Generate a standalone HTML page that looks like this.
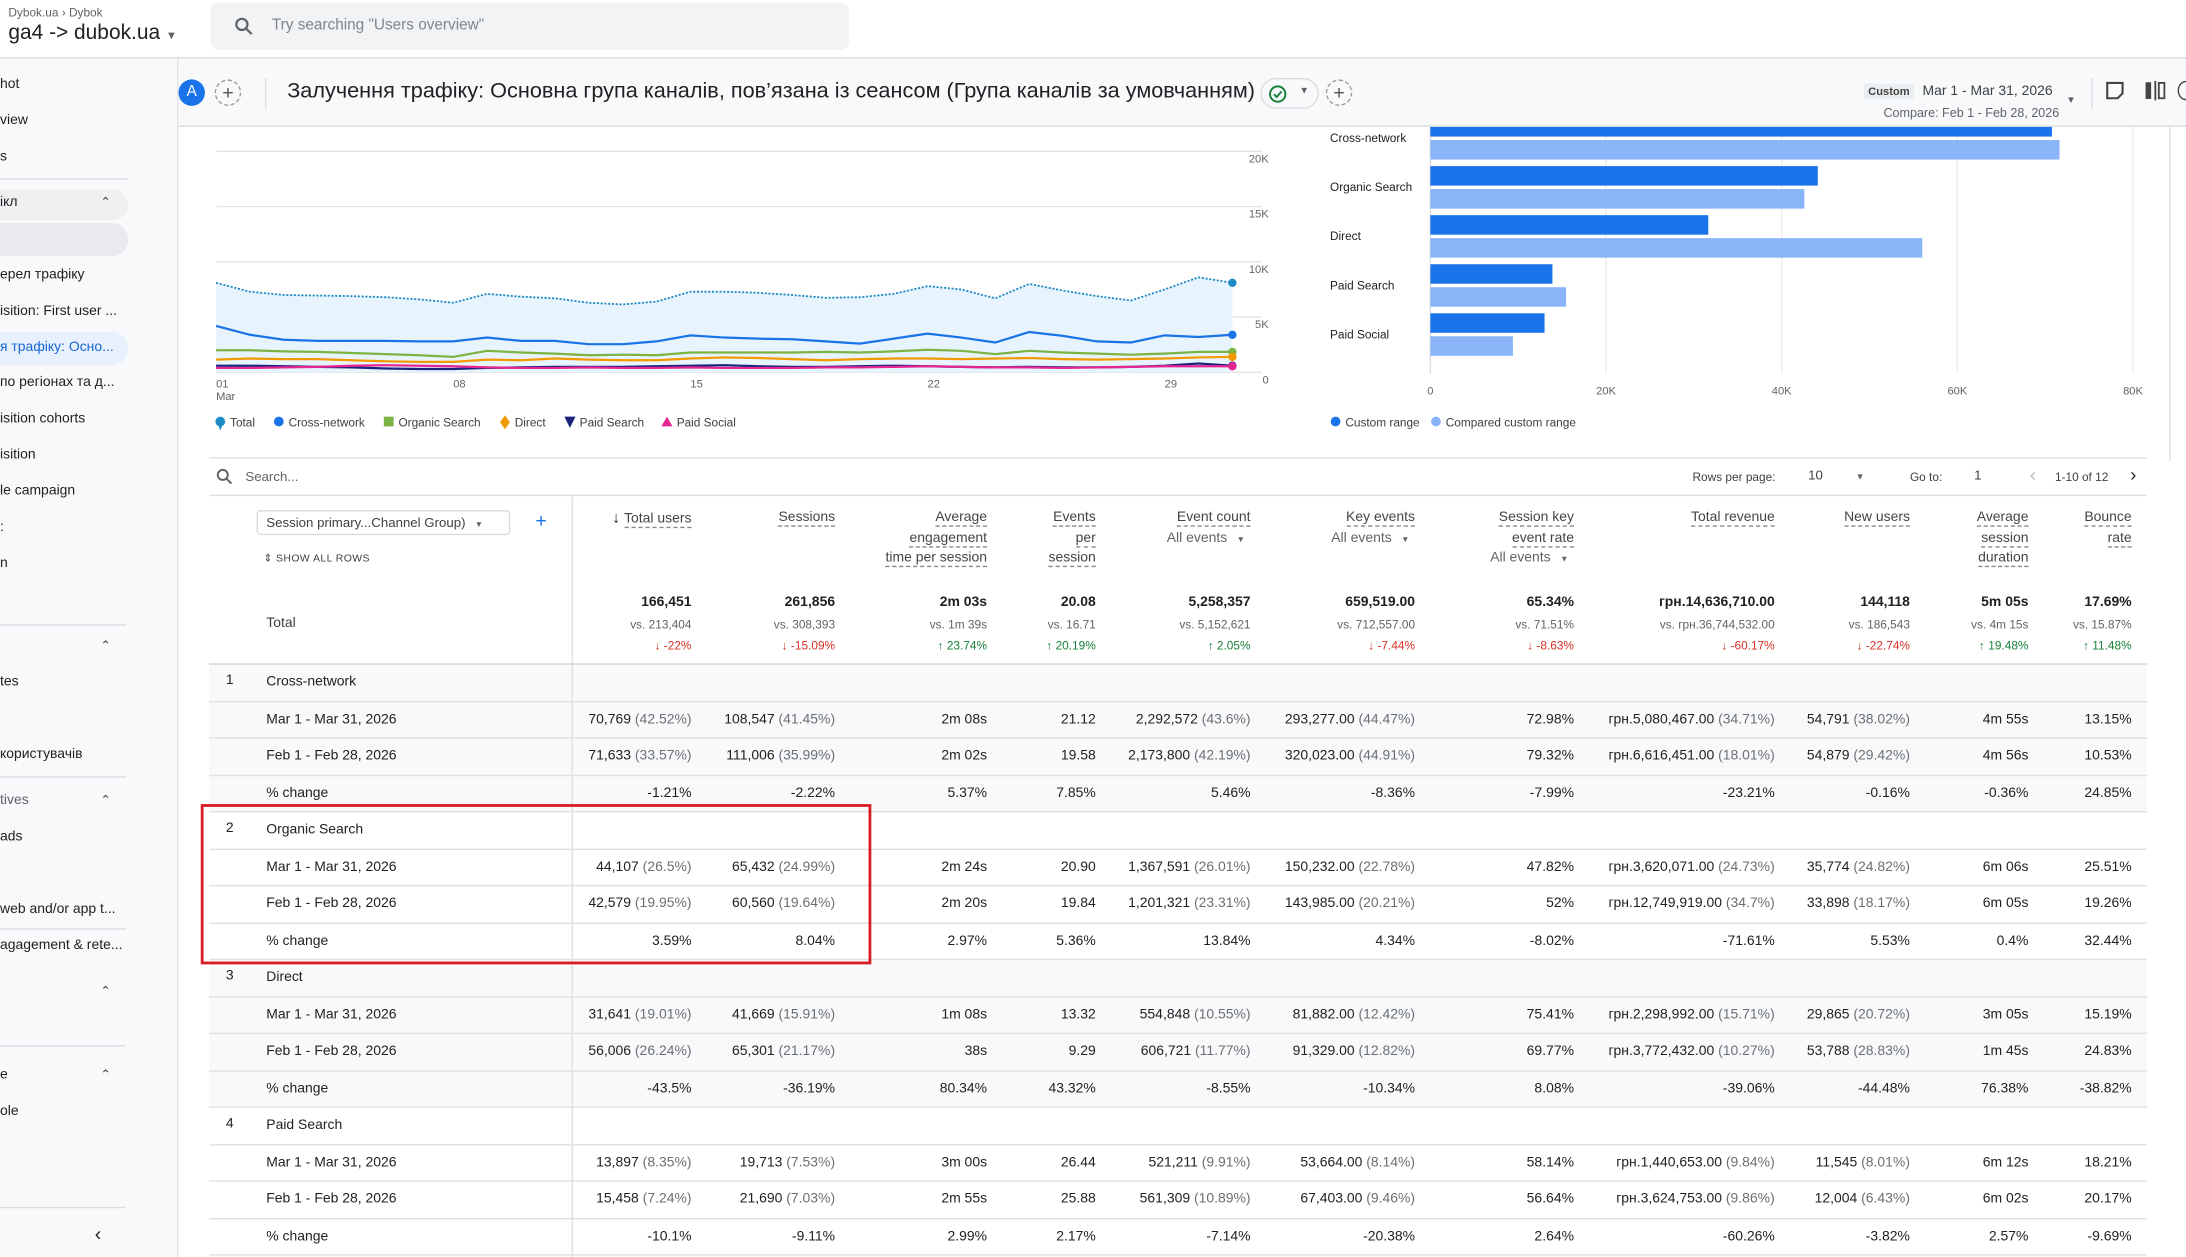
<!DOCTYPE html>
<html><head><meta charset="utf-8">
<style>
*{box-sizing:border-box;margin:0;padding:0}
html,body{width:2186px;height:1257px;overflow:hidden;background:#fff}
#root{position:absolute;left:0;top:0;width:1568px;height:902px;transform-origin:0 0;transform:scale(1.39413,1.39357);font-family:"Liberation Sans","Noto Sans CJK SC",sans-serif;color:#202124;overflow:hidden;background:#fff}
.a{position:absolute;white-space:nowrap}
.sb{font-size:10px;color:#202124}
.car{font-size:9px;color:#444}
.hd{font-size:10px;color:#444;text-align:right;line-height:14.5px}
.u{border-bottom:1px dashed #888}
.cell{position:absolute;font-size:10px;text-align:right;white-space:nowrap}
.g{color:#6b6f73}
</style></head><body>
<div id="root">

<!-- top bar -->
<div class="a" style="left:0;top:0;width:1568px;height:42px;background:#fff;border-bottom:1px solid #dadce0;z-index:5">
  <div class="a" style="left:6px;top:4px;font-size:8.5px;color:#5f6368">Dybok.ua › Dybok</div>
  <div class="a" style="left:6px;top:15px;font-size:15px;color:#202124">ga4 -&gt; dubok.ua <span style="font-size:8px;color:#5f6368">▼</span></div>
  <div class="a" style="left:151px;top:2px;width:458px;height:34px;background:#f1f3f4;border-radius:6px">
    <svg class="a" style="left:17px;top:10px" width="14" height="14" viewBox="0 0 14 14"><circle cx="5.5" cy="5.5" r="4" fill="none" stroke="#5f6368" stroke-width="1.6"/><line x1="8.5" y1="8.5" x2="12.5" y2="12.5" stroke="#5f6368" stroke-width="1.6"/></svg>
    <div class="a" style="left:44px;top:10px;font-size:11px;color:#80868b">Try searching "Users overview"</div>
  </div>
</div>

<!-- sidebar -->
<div class="a" style="left:0;top:42px;width:128px;height:860px;background:#f8f9fa;border-right:1px solid #e3e3e3;z-index:4">
</div>
<div id="side" style="position:absolute;left:0;top:0;z-index:6"></div>

<!-- header strip -->
<div class="a" style="left:128px;top:42px;width:1440px;height:49px;background:#f8f9fa;border-bottom:1px solid #dadce0;z-index:5"></div>
<div class="a" style="left:128px;top:57px;width:19px;height:19px;border-radius:50%;background:#1a73e8;color:#fff;font-size:11px;text-align:center;line-height:19px;z-index:6">A</div>
<div class="a" style="left:154px;top:57px;width:19px;height:19px;border-radius:50%;border:1px dashed #999;color:#555;font-size:14px;text-align:center;line-height:17px;z-index:6">+</div>
<div class="a" style="left:190px;top:56px;width:1px;height:22px;background:#dadce0;z-index:6"></div>
<div class="a" style="left:206px;top:57px;font-size:15.55px;color:#202124;z-index:6">Залучення трафіку: Основна група каналів, пов’язана із сеансом (Група каналів за умовчанням)</div>
<div class="a" style="left:904px;top:56px;width:42px;height:22px;border:1px solid #dadce0;border-radius:11px;z-index:6">
  <svg class="a" style="left:5px;top:4px" width="13" height="13" viewBox="0 0 13 13"><circle cx="6.5" cy="6.5" r="5.5" fill="none" stroke="#188038" stroke-width="1.4"/><path d="M3.8 6.7 L5.8 8.6 L9.3 4.6" fill="none" stroke="#188038" stroke-width="1.4"/></svg>
  <div class="a" style="left:27px;top:5px;font-size:7px;color:#5f6368">▼</div>
</div>
<div class="a" style="left:951px;top:57px;width:19px;height:19px;border-radius:50%;border:1px dashed #999;color:#555;font-size:14px;text-align:center;line-height:17px;z-index:6">+</div>
<div class="a" style="left:1337px;top:60px;padding:1px 3px;background:#eceff1;font-size:8px;font-weight:bold;color:#444;z-index:6">Custom</div>
<div class="a" style="left:1379px;top:60px;font-size:10px;color:#3c4043;z-index:6">Mar 1 - Mar 31, 2026</div>
<div class="a" style="left:1351px;top:76px;font-size:9px;color:#5f6368;z-index:6">Compare: Feb 1 - Feb 28, 2026</div>
<div class="a" style="left:1482px;top:69px;font-size:7px;color:#5f6368;z-index:6">▼</div>
<div class="a" style="left:1500px;top:56px;width:1px;height:22px;background:#dadce0;z-index:6"></div>
<svg class="a" style="left:1510px;top:58px;z-index:6" width="14" height="14" viewBox="0 0 14 14"><path d="M1.5 1.5 H12.5 V9 L9 12.5 H1.5 Z" fill="none" stroke="#444" stroke-width="1.5"/></svg>
<svg class="a" style="left:1538px;top:58px;z-index:6" width="16" height="14" viewBox="0 0 16 14"><rect x="1" y="1" width="4" height="12" fill="#444"/><line x1="8" y1="0" x2="8" y2="14" stroke="#444" stroke-width="1.3"/><rect x="10.5" y="1.5" width="4" height="11" fill="none" stroke="#444" stroke-width="1.3"/></svg>
<div class="a" style="left:1562px;top:58px;width:12px;height:14px;border:1.5px solid #444;border-radius:50%;z-index:6"></div>

<!-- line chart -->
<svg id="lc" class="a" style="left:140px;top:91px" width="790" height="230" viewBox="140 91 790 230"></svg>
<!-- bar chart -->
<svg id="bc" class="a" style="left:940px;top:80px" width="600" height="240" viewBox="940 80 600 240"></svg>
<div class="a" style="left:1556px;top:91px;width:1px;height:240px;background:#e0e0e0"></div>

<!-- table -->
<div id="tbl" class="a" style="left:0;top:0;width:1568px;height:902px"></div>

<div class="a" style="left:144px;top:577px;width:481px;height:115px;border:2px solid #d91b22;z-index:3"></div>
</div>

<script>
// ---------- sidebar ----------
const side=document.getElementById('side');
const sideItems=[["hot",61],["view",87],["s",113],["ікл",146],["ерел трафіку",198],["isition: First user ...",224],["я трафіку: Осно...",250],["по регіонах та д...",275],["isition cohorts",301],["isition",327],["le campaign",353],[":",379],["n",405],["tes",490],["користувачів",542],["tives",575],["ads",601],["web and/or app t...",653],["agagement &amp; rete...",679],["e",772],["ole",798]];
let sh='';
sh+='<div class="a" style="left:0;top:136px;width:92px;height:22px;border-radius:0 11px 11px 0;background:#eef0f2"></div>';
sh+='<div class="a" style="left:0;top:160px;width:92px;height:24px;border-radius:0 12px 12px 0;background:#e8eaed"></div>';
sh+='<div class="a" style="left:0;top:238px;width:92px;height:24px;border-radius:0 12px 12px 0;background:#e8f0fe"></div>';
[[128,92],[448,90],[557,90],[666,90],[750,90],[866,90]].forEach(d=>{sh+='<div class="a" style="left:0;top:'+d[0]+'px;width:'+d[1]+'px;height:1px;background:#dadce0"></div>';});
sideItems.forEach(s=>{const blue=s[1]===250;sh+='<div class="a sb" style="left:0;top:'+(s[1]-6)+'px;'+(blue?'color:#1967d2':(s[0]=='tives'?'color:#5f6368':''))+'">'+s[0]+'</div>';});
[146,464,575,712,772].forEach(y=>{sh+='<div class="a car" style="left:72px;top:'+(y-6)+'px">⌃</div>';});
sh+='<div class="a" style="left:68px;top:877px;font-size:14px;color:#202124">‹</div>';
side.innerHTML=sh;

// ---------- line chart ----------
const days=["01","08","15","22","29"];
const dayIdx=[0,7,14,21,28];
const yTicks=[0,5,10,15,20];
const totalK=[8.1,7.3,7.0,6.95,6.9,6.8,6.6,6.3,7.1,6.85,6.7,6.3,6.15,6.4,7.3,7.3,7.2,7.0,6.75,6.8,7.1,7.8,7.5,6.7,8.0,7.4,6.9,6.5,7.5,8.6,8.1];
const crossK=[4.2,3.4,2.95,2.85,2.85,2.85,2.8,2.8,3.15,2.85,2.85,2.55,2.55,2.8,3.35,3.15,3.05,3.0,2.8,2.6,3.05,3.5,3.15,2.7,3.65,3.3,2.8,2.7,3.35,3.2,3.4];
const organicK=[2.0,2.0,1.9,1.85,1.75,1.65,1.55,1.4,1.95,1.8,1.7,1.55,1.6,1.55,1.8,1.8,1.8,1.8,1.85,1.8,1.9,2.05,1.95,1.65,1.95,1.8,1.7,1.6,1.7,1.85,1.85];
const directK=[1.15,1.25,1.2,1.2,1.1,1.0,0.95,0.95,1.15,1.1,1.25,1.15,1.1,1.1,1.25,1.35,1.3,1.2,1.1,1.2,1.25,1.25,1.2,1.25,1.3,1.2,1.15,1.2,1.25,1.35,1.4];
const paidSearchK=[0.6,0.6,0.55,0.5,0.45,0.35,0.3,0.3,0.4,0.45,0.5,0.5,0.5,0.55,0.6,0.65,0.55,0.5,0.5,0.55,0.6,0.55,0.5,0.45,0.5,0.45,0.45,0.5,0.6,0.8,0.6];
const paidSocialK=[0.4,0.4,0.45,0.5,0.6,0.65,0.6,0.55,0.45,0.4,0.4,0.45,0.4,0.4,0.45,0.4,0.4,0.4,0.45,0.45,0.5,0.55,0.5,0.45,0.45,0.4,0.45,0.5,0.55,0.55,0.55];

const lx=i=>155+i*24.3;
const ly=v=>267.2-v*7.93;
const NS='http://www.w3.org/2000/svg';
function mk(parent,tag,attrs){const e=document.createElementNS(NS,tag);for(const k in attrs)e.setAttribute(k,attrs[k]);parent.appendChild(e);return e;}
const lc=document.getElementById('lc');
yTicks.forEach(t=>{
  const g=mk(lc,'line',{x1:155,x2:905,y1:ly(t),y2:ly(t),stroke:'#e3e3e3','stroke-width':1});
  
  
  const tx=mk(lc,'text',{x:910,y:ly(t)+8,'text-anchor':'end','font-size':8,fill:'#5f6368','font-family':'Liberation Sans, sans-serif'});
  tx.textContent=t===0?'0':t+'K';
  
  
});
days.forEach((d,k)=>{
  const tx=mk(lc,'text',{x:lx(dayIdx[k]),y:278,'font-size':8,fill:'#5f6368','font-family':'Liberation Sans, sans-serif'});
  tx.textContent=d;
  
  
});
{const tx=mk(lc,'text',{x:155,y:287,'font-size':8,fill:'#5f6368','font-family':'Liberation Sans, sans-serif'});tx.textContent='Mar';

}
{let d='M'+lx(0)+' '+ly(0);totalK.forEach((v,i)=>d+=' L'+lx(i)+' '+ly(v));d+=' L'+lx(totalK.length-1)+' '+ly(0)+' Z';
const a=mk(lc,'path',{d:d,fill:'#e8f4fd'});

}
const series=[
 {name:'total',vals:totalK,color:'#1e8ac6',w:1.3,dash:'1.5 1.2'},
 {name:'cross-network',vals:crossK,color:'#1a73e8',w:1.6},
 {name:'organic-search',vals:organicK,color:'#7cb342',w:1.6},
 {name:'direct',vals:directK,color:'#f29900',w:1.6},
 {name:'paid-search',vals:paidSearchK,color:'#1a237e',w:1.6},
 {name:'paid-social',vals:paidSocialK,color:'#e52592',w:1.6}];
series.forEach(s=>{
  const pts=s.vals.map((v,i)=>lx(i)+','+ly(v)).join(' ');
  const p=mk(lc,'polyline',{points:pts,fill:'none',stroke:s.color,'stroke-width':s.w});
  if(s.dash)p.setAttribute('stroke-dasharray',s.dash);
  
  
  const n=s.vals.length-1;
  const m=mk(lc,'circle',{cx:lx(n),cy:ly(s.vals[n]),r:3,fill:s.color});
  
  
});
const legItems=[["Total","#1e8ac6","pin"],["Cross-network","#1a73e8","c"],["Organic Search","#7cb342","s"],["Direct","#f29900","d"],["Paid Search","#1a237e","tv"],["Paid Social","#e52592","t"]];
let lxp=154;
legItems.forEach(l=>{
  const g=mk(lc,'g',{});
  
  
  const cx=lxp+4,cy=303;
  if(l[2]=='c'||l[2]=='pin')mk(g,'circle',{cx:cx,cy:cy-0.5,r:3.5,fill:l[1]});
  if(l[2]=='pin')mk(g,'path',{d:`M${cx-1.5} ${cy+2} L${cx} ${cy+6} L${cx+1.5} ${cy+2}Z`,fill:l[1]});
  if(l[2]=='s')mk(g,'rect',{x:cx-3.5,y:cy-4,width:7,height:7,fill:l[1]});
  if(l[2]=='d')mk(g,'path',{d:`M${cx} ${cy-5} L${cx+3.5} ${cy} L${cx} ${cy+5} L${cx-3.5} ${cy}Z`,fill:l[1]});
  if(l[2]=='tv')mk(g,'path',{d:`M${cx-4} ${cy-4} L${cx+4} ${cy-4} L${cx} ${cy+4}Z`,fill:l[1]});
  if(l[2]=='t')mk(g,'path',{d:`M${cx-4} ${cy+3} L${cx+4} ${cy+3} L${cx} ${cy-4}Z`,fill:l[1]});
  const t=mk(g,'text',{x:lxp+11,y:306,'font-size':8.5,fill:'#3c4043','font-family':'Liberation Sans, sans-serif'});
  t.textContent=l[0];
  lxp+=11+l[0].length*4.6+8;
});

// ---------- bar chart ----------
const barCats=["Cross-network","Organic Search","Direct","Paid Search","Paid Social"];
const barCurrent=[70769,44107,31641,13897,13000];
const barCompared=[71633,42579,56006,15458,9400];
const barTicks=[0,20000,40000,60000,80000];
const bx=v=>1026+v*6.3/1000;
const catY=i=>99+i*35.2;
const bc=document.getElementById('bc');
barTicks.forEach(t=>{
  const l=mk(bc,'line',{x1:bx(t),x2:bx(t),y1:91,y2:268,stroke:t===0?'#dadce0':'#ececec','stroke-width':1});
  
  
  const tx=mk(bc,'text',{x:bx(t),y:283,'text-anchor':'middle','font-size':8,fill:'#5f6368','font-family':'Liberation Sans, sans-serif'});
  tx.textContent=t===0?'0':(t/1000)+'K';
  
  
});
barCats.forEach((c,i)=>{
  const y=catY(i);
  const tx=mk(bc,'text',{x:954,y:y+3,'font-size':8.5,fill:'#202124','font-family':'Liberation Sans, sans-serif'});
  tx.textContent=c;
  
  
  const r1=mk(bc,'rect',{x:bx(0),y:y-15,width:bx(barCurrent[i])-bx(0),height:14,fill:'#1a73e8'});
  
  
  const r2=mk(bc,'rect',{x:bx(0),y:y+1.5,width:bx(barCompared[i])-bx(0),height:14,fill:'#8ab4f8'});
  
  
});
[["Custom range","#1a73e8",954],["Compared custom range","#8ab4f8",1026]].forEach(l=>{
  const g=mk(bc,'g',{});
  
  
  mk(g,'circle',{cx:l[2]+4,cy:302.5,r:3.5,fill:l[1]});
  const t=mk(g,'text',{x:l[2]+11,y:306,'font-size':8.5,fill:'#3c4043','font-family':'Liberation Sans, sans-serif'});
  t.textContent=l[0];
});

// ---------- table ----------
const colRight=[496,599,708,786,897,1015,1129,1273,1370,1455,1529];
const headers=[["Total users"],["Sessions"],["Average","engagement","time per session"],["Events","per","session"],["Event count","@All events"],["Key events","@All events"],["Session key","event rate","@All events"],["Total revenue"],["New users"],["Average","session","duration"],["Bounce","rate"]];
const totMain=["166,451","261,856","2m 03s","20.08","5,258,357","659,519.00","65.34%","грн.14,636,710.00","144,118","5m 05s","17.69%"];
const totVs=["vs. 213,404","vs. 308,393","vs. 1m 39s","vs. 16.71","vs. 5,152,621","vs. 712,557.00","vs. 71.51%","vs. грн.36,744,532.00","vs. 186,543","vs. 4m 15s","vs. 15.87%"];
const totChg=["-22%","-15.09%","23.74%","20.19%","2.05%","-7.44%","-8.63%","-60.17%","-22.74%","19.48%","11.48%"];
const groups=[
 ["Cross-network",
  ["70,769|42.52%","108,547|41.45%","2m 08s","21.12","2,292,572|43.6%","293,277.00|44.47%","72.98%","грн.5,080,467.00|34.71%","54,791|38.02%","4m 55s","13.15%"],
  ["71,633|33.57%","111,006|35.99%","2m 02s","19.58","2,173,800|42.19%","320,023.00|44.91%","79.32%","грн.6,616,451.00|18.01%","54,879|29.42%","4m 56s","10.53%"],
  ["-1.21%","-2.22%","5.37%","7.85%","5.46%","-8.36%","-7.99%","-23.21%","-0.16%","-0.36%","24.85%"]],
 ["Organic Search",
  ["44,107|26.5%","65,432|24.99%","2m 24s","20.90","1,367,591|26.01%","150,232.00|22.78%","47.82%","грн.3,620,071.00|24.73%","35,774|24.82%","6m 06s","25.51%"],
  ["42,579|19.95%","60,560|19.64%","2m 20s","19.84","1,201,321|23.31%","143,985.00|20.21%","52%","грн.12,749,919.00|34.7%","33,898|18.17%","6m 05s","19.26%"],
  ["3.59%","8.04%","2.97%","5.36%","13.84%","4.34%","-8.02%","-71.61%","5.53%","0.4%","32.44%"]],
 ["Direct",
  ["31,641|19.01%","41,669|15.91%","1m 08s","13.32","554,848|10.55%","81,882.00|12.42%","75.41%","грн.2,298,992.00|15.71%","29,865|20.72%","3m 05s","15.19%"],
  ["56,006|26.24%","65,301|21.17%","38s","9.29","606,721|11.77%","91,329.00|12.82%","69.77%","грн.3,772,432.00|10.27%","53,788|28.83%","1m 45s","24.83%"],
  ["-43.5%","-36.19%","80.34%","43.32%","-8.55%","-10.34%","8.08%","-39.06%","-44.48%","76.38%","-38.82%"]],
 ["Paid Search",
  ["13,897|8.35%","19,713|7.53%","3m 00s","26.44","521,211|9.91%","53,664.00|8.14%","58.14%","грн.1,440,653.00|9.84%","11,545|8.01%","6m 12s","18.21%"],
  ["15,458|7.24%","21,690|7.03%","2m 55s","25.88","561,309|10.89%","67,403.00|9.46%","56.64%","грн.3,624,753.00|9.86%","12,004|6.43%","6m 02s","20.17%"],
  ["-10.1%","-9.11%","2.99%","2.17%","-7.14%","-20.38%","2.64%","-60.26%","-3.82%","2.57%","-9.69%"]]];

let h='';
h+='<div class="a" style="left:150px;top:328px;width:1390px;height:1px;background:#e0e0e0"></div>';
h+='<svg class="a" style="left:155px;top:336px" width="12" height="12" viewBox="0 0 12 12"><circle cx="4.8" cy="4.8" r="3.6" fill="none" stroke="#5f6368" stroke-width="1.4"/><line x1="7.5" y1="7.5" x2="11" y2="11" stroke="#5f6368" stroke-width="1.4"/></svg>';
h+='<div class="a" style="left:176px;top:337px;font-size:9.5px;color:#5f6368">Search...</div>';
h+='<div class="a" style="left:1214px;top:337px;font-size:8.5px;color:#3c4043">Rows per page:</div>';
h+='<div class="a" style="left:1297px;top:336px;font-size:9.5px;color:#3c4043">10</div>';
h+='<div class="a" style="left:1331px;top:339px;font-size:6.5px;color:#5f6368">▼</div>';
h+='<div class="a" style="left:1370px;top:337px;font-size:8.5px;color:#3c4043">Go to:</div>';
h+='<div class="a" style="left:1416px;top:336px;font-size:9.5px;color:#3c4043">1</div>';
h+='<div class="a" style="left:1456px;top:333px;font-size:13px;color:#bbb">‹</div>';
h+='<div class="a" style="left:1474px;top:337px;font-size:8.5px;color:#3c4043">1-10 of 12</div>';
h+='<div class="a" style="left:1528px;top:333px;font-size:13px;color:#202124">›</div>';
h+='<div class="a" style="left:150px;top:355px;width:1390px;height:1px;background:#e0e0e0"></div>';
h+='<div class="a" style="left:184px;top:366px;width:182px;height:18px;border:1px solid #dadce0;border-radius:3px;font-size:9.5px;color:#3c4043;padding:3px 6px">Session primary...Channel Group) <span style="font-size:6px;color:#5f6368;margin-left:4px">▼</span></div>';
h+='<div class="a" style="left:384px;top:365px;font-size:14px;color:#1a73e8">+</div>';
h+='<div class="a" style="left:189px;top:396px;font-size:7.5px;color:#3c4043;letter-spacing:0.3px">⇕ SHOW ALL ROWS</div>';
headers.forEach((lines,c)=>{
  let inner='';
  lines.forEach(t=>{
    if(t[0]==='@')inner+='<div style="color:#5f6368">'+t.slice(1)+' <span style="font-size:6px;margin:0 4px">▼</span></div>';
    else inner+='<div><span class="u">'+t+'</span></div>';
  });
  if(c===0)inner=inner.replace('<div>','<div><span style="font-size:11px;margin-right:3px;color:#202124">↓</span>');
  h+='<div class="a hd" style="right:'+(1568-colRight[c])+'px;top:365px">'+inner+'</div>';
});
h+='<div class="a" style="left:191px;top:442px;font-size:10px;color:#3c4043">Total</div>';
colRight.forEach((r,c)=>{
  const up=totChg[c][0]!=='-';
  h+='<div class="cell" style="right:'+(1568-r)+'px;top:427px;font-weight:bold;font-size:10px">'+totMain[c]+'</div>';
  h+='<div class="cell" style="right:'+(1568-r)+'px;top:443px;font-size:8.5px;color:#5f6368">'+totVs[c]+'</div>';
  h+='<div class="cell" style="right:'+(1568-r)+'px;top:458px;font-size:8.5px;color:'+(up?'#188038':'#d93025')+'">'+(up?'↑ ':'↓ ')+totChg[c]+'</div>';
});
const rowH=26.5, top0=476;
groups.forEach((g,gi)=>{
  const bg=gi%2===0?'#f8f9fa':'#ffffff';
  const labels=[g[0],"Mar 1 - Mar 31, 2026","Feb 1 - Feb 28, 2026","% change"];
  for(let r=0;r<4;r++){
    const y=top0+(gi*4+r)*rowH;
    h+='<div class="a" style="left:150px;top:'+y+'px;width:1390px;height:'+rowH+'px;background:'+bg+';border-top:1px solid #e0e0e0"></div>';
    if(r===0)h+='<div class="a" style="left:162px;top:'+(y+7)+'px;font-size:10px;color:#202124">'+(gi+1)+'</div>';
    h+='<div class="a" style="left:191px;top:'+(y+8)+'px;font-size:10px;color:#202124;'+(r>0?'font-weight:500':'')+'">'+labels[r]+'</div>';
    if(r>0){
      g[r].forEach((v,c)=>{
        const parts=v.split('|');
        const txt=parts.length>1?parts[0]+' <span class="g">('+parts[1]+')</span>':parts[0];
        h+='<div class="cell" style="right:'+(1568-colRight[c])+'px;top:'+(y+8)+'px;color:#202124">'+txt+'</div>';
      });
    }
  }
});
h+='<div class="a" style="left:150px;top:'+(top0+16*rowH)+'px;width:1390px;height:1px;background:#e0e0e0"></div>';
h+='<div class="a" style="left:410px;top:356px;width:1px;height:546px;background:#e0e0e0"></div>';
h+='<div class="a" style="left:150px;top:476px;width:1390px;height:1px;background:#d5d7da"></div>';
document.getElementById('tbl').innerHTML=h;
</script>
</body></html>
